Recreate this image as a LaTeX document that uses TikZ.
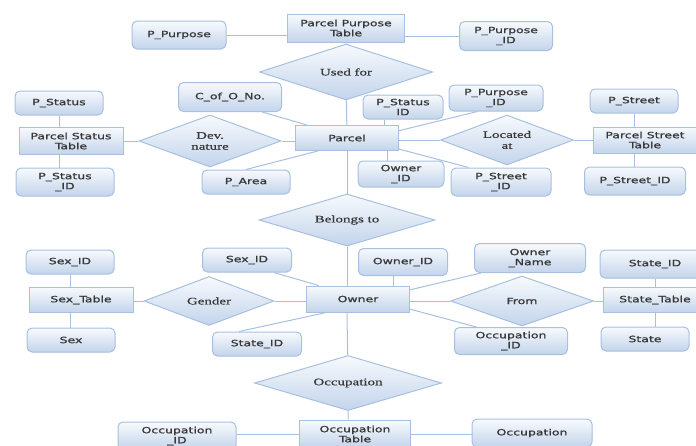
\documentclass[tikz,border=0pt]{standalone}
\usepackage{fontspec}
\usetikzlibrary{shapes.geometric}
\newfontfamily\attfont[FakeStretch=1.45,FakeBold=1.2]{DejaVu Sans}
\newfontfamily\relfont[FakeStretch=1.5,FakeBold=0.6]{Liberation Serif}
\definecolor{erline}{HTML}{A7C0E0}
\definecolor{ertop}{HTML}{F7FAFD}
\definecolor{erbot}{HTML}{C3D4EB}
\definecolor{ertext}{HTML}{383838}
\tikzset{
  erbase/.style={draw=erline, line width=1pt, top color=ertop, bottom color=erbot, text=ertext, align=center, inner sep=0pt},
  entity/.style={erbase, rectangle, font=\attfont\fontsize{8.6}{10}\selectfont},
  attr/.style={erbase, rectangle, rounded corners=5pt, font=\attfont\fontsize{8.6}{10}\selectfont},
  rel/.style={erbase, diamond, aspect=3, font=\relfont\fontsize{10}{11}\selectfont},
  conn/.style={draw=erline, line width=1pt}
}
\begin{document}
\begin{tikzpicture}[x=1pt, y=-1pt]
    \useasboundingbox (0,0) rectangle (696,445);
    \clip (0,0) rectangle (696,445);
    % parcel part
    \node[entity, minimum width=117, minimum height=28] (ppt) at (346,28) {Parcel Purpose\\Table};
    \node[attr, minimum width=94, minimum height=28] (ppurp) at (179,35) {P\_Purpose};
    \node[attr, minimum width=93, minimum height=29] (ppurpid) at (506,36) {P\_Purpose\\\_ID};
    \node[rel, minimum width=173, minimum height=56] (usedfor) at (346,72) {Used for};
    \node[entity, minimum width=103, minimum height=25] (parcel) at (347,138) {Parcel};
    \node[attr, minimum width=103, minimum height=29] (cofo) at (230,97) {C\_of\_O\_No.};
    \node[attr, minimum width=88, minimum height=24] (pstatus) at (59,103) {P\_Status};
    \node[entity, minimum width=104, minimum height=27] (pst) at (71,141) {Parcel Status\\Table};
    \node[attr, minimum width=98, minimum height=28] (pstatusid) at (65,182) {P\_Status\\\_ID};
    \node[rel, minimum width=142, minimum height=52] (devn) at (210,141) {Dev.\\nature};
    \node[attr, minimum width=88, minimum height=24] (parea) at (246,182) {P\_Area};
    \node[attr, minimum width=80, minimum height=24] (pstatid) at (403,107) {P\_Status\\ID};
    \node[attr, minimum width=94, minimum height=26] (ppurpid2) at (496,98) {P\_Purpose\\\_ID};
    \node[rel, minimum width=133, minimum height=50] (locat) at (507,140) {Located\\at};
    \node[attr, minimum width=88, minimum height=24] (pstreet) at (634,101) {P\_Street};
    \node[entity, minimum width=103, minimum height=26] (pstt) at (645,140) {Parcel Street\\Table};
    \node[attr, minimum width=101, minimum height=28] (pstreetid) at (635,181) {P\_Street\_ID};
    \node[attr, minimum width=86, minimum height=26] (oid1) at (401,174) {Owner\\\_ID};
    \node[attr, minimum width=100, minimum height=28] (pstreetid2) at (501,182) {P\_Street\\\_ID};
    % owner part
    \node[rel, minimum width=176, minimum height=52] (belongs) at (347,220) {Belongs to};
    \node[entity, minimum width=103, minimum height=26] (owner) at (358,299) {Owner};
    \node[attr, minimum width=89, minimum height=24] (sexid2) at (247,260) {Sex\_ID};
    \node[attr, minimum width=89, minimum height=27] (oid2) at (403,262) {Owner\_ID};
    \node[attr, minimum width=111, minimum height=29] (oname) at (530,258) {Owner\\\_Name};
    \node[rel, minimum width=143, minimum height=50, font=\attfont\fontsize{8.6}{10}\selectfont] (from) at (522,301) {From};
    \node[attr, minimum width=110, minimum height=28] (stateid) at (655,264) {State\_ID};
    \node[entity, minimum width=104, minimum height=25] (statetab) at (655,300) {State\_Table};
    \node[attr, minimum width=88, minimum height=24] (state) at (645,339) {State};
    \node[attr, minimum width=113, minimum height=27] (occid2) at (511,341) {Occupation\\\_ID};
    \node[attr, minimum width=89, minimum height=24] (stateid2) at (257,344) {State\_ID};
    \node[attr, minimum width=88, minimum height=24] (sexid) at (70,262) {Sex\_ID};
    \node[entity, minimum width=104, minimum height=25] (sextab) at (81,300) {Sex\_Table};
    \node[attr, minimum width=88, minimum height=24] (sex) at (71,340) {Sex};
    \node[rel, minimum width=130, minimum height=49] (gender) at (209,301) {Gender};
    % occupation part
    \node[rel, minimum width=187, minimum height=55] (occ) at (348,383) {Occupation};
    \node[entity, minimum width=111, minimum height=28] (occtab) at (355,434) {Occupation\\Table};
    \node[attr, minimum width=118, minimum height=28] (occid) at (177,436) {Occupation\\\_ID};
    \node[attr, minimum width=120, minimum height=28] (occup) at (532,433) {Occupation};
    % connectors
    \draw[conn] (ppurp) -- (ppurp -| ppt.west);
    \draw[conn] (ppt.east |- ppurpid) -- (ppurpid);
    \draw[conn] (ppt) -- (usedfor) -- (parcel);
    \draw[conn] (cofo.-25) -- (parcel.162);
    \draw[conn] (parea.north) -- (parcel.204);
    \draw[conn] (pstatid.214) -- (pstatid.214 |- parcel.north);
    \draw[conn] (ppurpid2.216) -- (parcel.8);
    \draw[conn] (oid1.135) -- (oid1.135 |- parcel.south);
    \draw[conn] (parcel.-12) -- (pstreetid2.156);
    \draw[conn] (pst.east |- devn) -- (devn) -- (devn -| parcel.west);
    \draw[conn] (pstatus) -- (pstatus |- pst.north);
    \draw[conn] (pstatus |- pst.south) -- (pstatus |- pstatusid.north);
    \draw[conn] (parcel.east |- locat) -- (locat) -- (locat -| pstt.west);
    \draw[conn] (pstreet) -- (pstreet |- pstt.north);
    \draw[conn] (pstreet |- pstt.south) -- (pstreet |- pstreetid.north);
    \draw[conn] (belongs |- parcel.south) -- (belongs) -- (belongs |- owner.north);
    \draw[conn] (sexid2.-25) -- (owner.161);
    \draw[conn] (stateid2.145) -- (owner.203);
    \draw[conn] (oid2.235) -- (oid2.235 |- owner.north);
    \draw[conn] (oname.197) -- (owner.10);
    \draw[conn] (owner.-11) -- (occid2.158);
    \draw[conn] (owner.east |- from) -- (from) -- (from -| statetab.west);
    \draw[conn] (stateid) -- (stateid |- statetab.north);
    \draw[conn] (stateid |- statetab.south) -- (stateid |- state.north);
    \draw[conn] (sextab.east |- gender) -- (gender) -- (gender -| owner.west);
    \draw[conn] (sexid) -- (sexid |- sextab.north);
    \draw[conn] (sexid |- sextab.south) -- (sexid |- sex.north);
    \draw[conn] (belongs |- owner.south) -- (occ) -- (occ |- occtab.north);
    \draw[conn] (occid.east |- occtab) -- (occtab);
    \draw[conn] (occtab) -- (occup.west |- occtab);
\end{tikzpicture}
\end{document}
